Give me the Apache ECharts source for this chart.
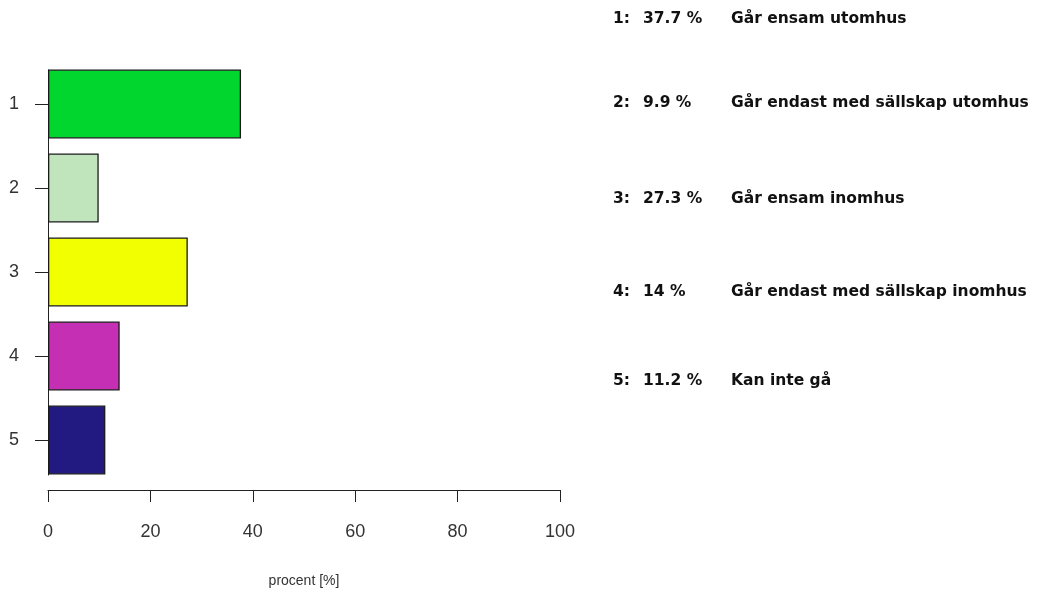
<!DOCTYPE html>
<html>
<head>
<meta charset="utf-8">
<script src="https://cdn.jsdelivr.net/npm/echarts@6/dist/echarts.min.js"></script>
<style>html,body{margin:0;padding:0;background:#fff}#c{width:1040px;height:595px}</style>
</head>
<body>
<div id="c"></div>
<script>
const categories = ['1', '2', '3', '4', '5'];
const values = [37.7, 9.9, 27.3, 14, 11.2];
const valueLabels = ['37.7 %', '9.9 %', '27.3 %', '14 %', '11.2 %'];
const descriptions = ['Går ensam utomhus', 'Går endast med sällskap utomhus', 'Går ensam inomhus', 'Går endast med sällskap inomhus', 'Kan inte gå'];
const colors = ['#00d62e', '#c0e4bc', '#f2ff00', '#c42fb4', '#221a80'];
const xTicks = [0, 20, 40, 60, 80, 100];
const axisTitle = 'procent [%]';

const legendRowY = [19, 103, 199, 292, 381];
const legendFont = 'bold 15.5px "DejaVu Sans"';
const graphics = [];
categories.forEach((c, i) => {
  graphics.push({type: 'text', left: 613, top: legendRowY[i] - 8, style: {text: c + ':', font: legendFont, fill: '#111'}});
  graphics.push({type: 'text', left: 643, top: legendRowY[i] - 8, style: {text: valueLabels[i], font: legendFont, fill: '#111'}});
  graphics.push({type: 'text', left: 731, top: legendRowY[i] - 8, style: {text: descriptions[i], font: legendFont, fill: '#111'}});
});

const chart = echarts.init(document.getElementById('c'));
chart.setOption({
  animation: false,
  backgroundColor: '#fff',
  grid: [
    {left: 48, right: 480, top: 62, bottom: 113},
    {left: 48, right: 480, top: 70, bottom: 120}
  ],
  xAxis: [
    {
      type: 'value', gridIndex: 0, min: 0, max: 100, interval: 20, offset: 8,
      axisLine: {show: true, lineStyle: {color: '#222', width: 1}},
      axisTick: {show: true, length: 12, lineStyle: {color: '#222'}},
      splitLine: {show: false},
      axisLabel: {margin: 33, fontFamily: 'Liberation Sans', fontSize: 18, color: '#333',
        formatter: v => xTicks.includes(v) ? String(v) : ''},
      name: axisTitle, nameLocation: 'middle', nameGap: 84,
      nameTextStyle: {fontFamily: 'Liberation Sans', fontSize: 14, color: '#333'}
    },
    {type: 'value', gridIndex: 1, show: false, min: 0, max: 1}
  ],
  yAxis: [
    {
      type: 'category', gridIndex: 0, data: categories, inverse: true,
      axisLine: {show: false},
      axisTick: {show: true, alignWithLabel: true, length: 13, lineStyle: {color: '#222'}},
      axisLabel: {margin: 29, fontFamily: 'Liberation Sans', fontSize: 18, color: '#333'},
      splitLine: {show: false}
    },
    {
      type: 'value', gridIndex: 1, min: 0, max: 1,
      axisLine: {show: true, lineStyle: {color: '#222', width: 1}},
      axisTick: {show: false}, axisLabel: {show: false}, splitLine: {show: false}
    }
  ],
  series: [{
    type: 'bar', xAxisIndex: 0, yAxisIndex: 0,
    data: values.map((v, i) => ({value: v, itemStyle: {color: colors[i]}})),
    barWidth: 69,
    itemStyle: {borderColor: '#1a1a1a', borderWidth: 1.3}
  }],
  graphic: graphics
});
</script>
</body>
</html>
